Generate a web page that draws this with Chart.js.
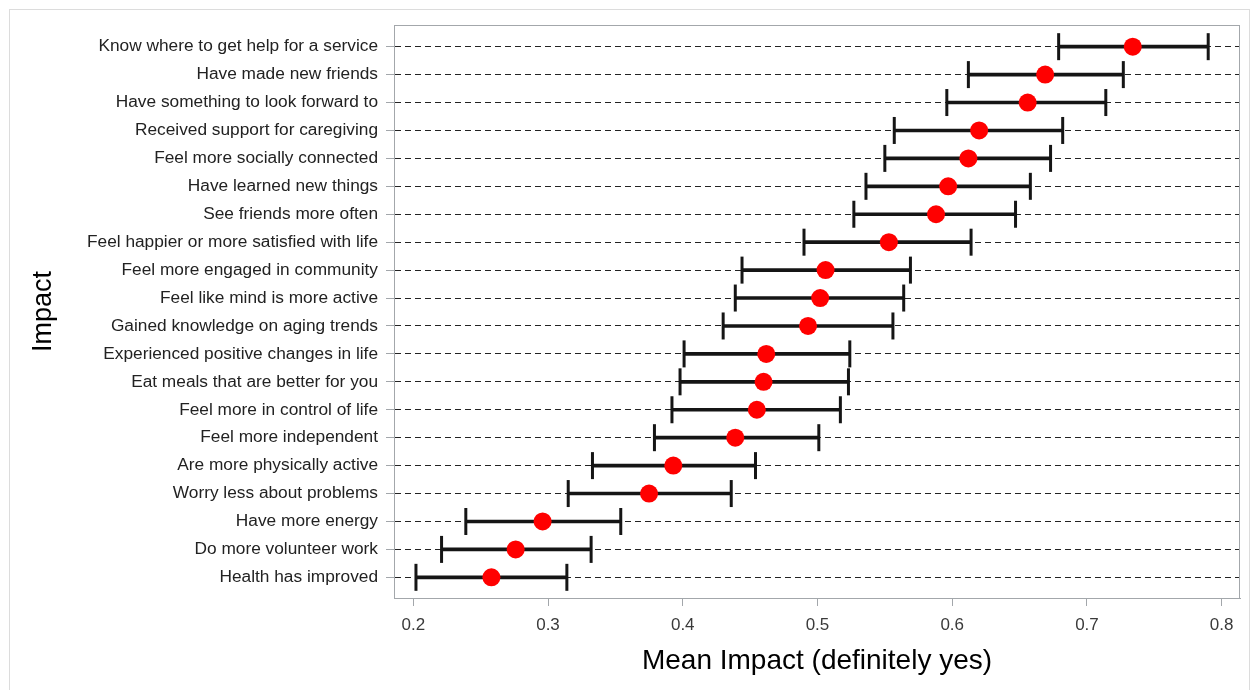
<!DOCTYPE html>
<html>
<head>
<meta charset="utf-8">
<script src="https://cdn.jsdelivr.net/npm/chart.js@4.4.1/dist/chart.umd.min.js"></script>
<style>
  html, body { margin: 0; padding: 0; background: #fff; }
  #wrap { position: relative; width: 1252px; height: 690px; overflow: hidden; }
  #frame { position: absolute; left: 9px; top: 9px; width: 1241px; height: 700px; border: 1px solid #dcdcdc; box-sizing: border-box; pointer-events: none; }
  canvas { position: absolute; left: 0; top: 0; }
</style>
</head>
<body>
<div id="wrap">
  <div id="frame"></div>
  <canvas id="c" width="1252" height="690"></canvas>
</div>
<script>
const categories = [
  "Know where to get help for a service",
  "Have made new friends",
  "Have something to look forward to",
  "Received support for caregiving",
  "Feel more socially connected",
  "Have learned new things",
  "See friends more often",
  "Feel happier or more satisfied with life",
  "Feel more engaged in community",
  "Feel like mind is more active",
  "Gained knowledge on aging trends",
  "Experienced positive changes in life",
  "Eat meals that are better for you",
  "Feel more in control of life",
  "Feel more independent",
  "Are more physically active",
  "Worry less about problems",
  "Have more energy",
  "Do more volunteer work",
  "Health has improved"
];
const means = [0.734,0.669,0.656,0.620,0.612,0.597,0.588,0.553,0.506,0.502,0.493,0.462,0.460,0.455,0.439,0.393,0.375,0.296,0.276,0.258];
const lower = [0.679,0.612,0.596,0.557,0.550,0.536,0.527,0.490,0.444,0.439,0.430,0.401,0.398,0.392,0.379,0.333,0.315,0.239,0.221,0.202];
const upper = [0.790,0.727,0.714,0.682,0.673,0.658,0.647,0.614,0.569,0.564,0.556,0.524,0.523,0.517,0.501,0.454,0.436,0.354,0.332,0.314];
const xTicks = [0.2,0.3,0.4,0.5,0.6,0.7,0.8];
const xTickLabels = ["0.2","0.3","0.4","0.5","0.6","0.7","0.8"];
const xTitle = "Mean Impact (definitely yes)";
const yTitle = "Impact";

const FONT = "'Liberation Sans', Arial, sans-serif";

const whiskerData = categories.map((c, i) => ({ y: i, x: [lower[i], upper[i]] }));
const capData = [];
categories.forEach((c, i) => { capData.push({ x: lower[i], y: i }); capData.push({ x: upper[i], y: i }); });
const meanData = categories.map((c, i) => ({ x: means[i], y: i }));

const framePlugin = {
  id: 'frame',
  afterDraw(chart) {
    const { ctx, chartArea: a } = chart;
    ctx.save();
    ctx.strokeStyle = '#a3a7ab';
    ctx.lineWidth = 1;
    ctx.strokeRect(Math.round(a.left) + 0.5, Math.round(a.top) + 0.5, Math.round(a.right - a.left) - 1, Math.round(a.bottom - a.top));
    ctx.restore();
  }
};

new Chart(document.getElementById('c'), {
  type: 'scatter',
  data: {
    datasets: [
      { type: 'bar', indexAxis: 'y', data: whiskerData, backgroundColor: '#151515', borderWidth: 0, barThickness: 3, order: 3 },
      { type: 'scatter', data: capData, pointStyle: 'line', rotation: 90, pointRadius: 13.5, borderColor: '#151515', borderWidth: 3, order: 2 },
      { type: 'scatter', data: meanData, pointStyle: 'circle', pointRadius: 9, backgroundColor: '#ff0000', borderWidth: 0, order: 1 }
    ]
  },
  options: {
    responsive: false,
    animation: false,
    devicePixelRatio: 1,
    layout: { autoPadding: false, padding: { left: 0, top: 25, right: 12, bottom: 0 } },
    plugins: { legend: { display: false }, tooltip: { enabled: false } },
    scales: {
      x: {
        type: 'linear', position: 'bottom', offset: false, min: 0.1857, max: 0.8136,
        afterBuildTicks: s => { s.ticks = xTicks.map(v => ({ value: v })); },
        afterFit: s => { s.height = 92; s.paddingLeft = 0; s.paddingRight = 0; },
        ticks: { callback: (v, i) => xTickLabels[i], color: '#3a3a3a', font: { family: FONT, size: 17 }, padding: 9, maxRotation: 0 },
        grid: { offset: false, drawOnChartArea: false, drawTicks: true, tickLength: 8, tickColor: '#a3a7ab', color: '#a3a7ab' },
        border: { display: true, color: '#a3a7ab', width: 1 },
        title: { display: true, text: xTitle, color: '#000', font: { family: FONT, size: 28 }, padding: { top: 0, bottom: 12 } }
      },
      y: {
        type: 'linear', position: 'left', reverse: true, offset: false, min: -0.776, max: 19.74,
        afterBuildTicks: s => { s.ticks = categories.map((c, i) => ({ value: i })); },
        afterFit: s => { s.width = 394; s.paddingTop = 0; s.paddingBottom = 0; },
        ticks: { callback: (v) => categories[v], color: '#222', font: { family: FONT, size: 17.3 }, padding: 8, autoSkip: false },
        grid: { offset: false, drawOnChartArea: true, drawTicks: true, tickLength: 8, color: '#222', tickColor: '#a3a7ab', lineWidth: 1 },
        border: { display: true, color: '#a3a7ab', width: 1, dash: [6, 4] },
        title: { display: true, text: yTitle, color: '#000', font: { family: FONT, size: 27 }, padding: { top: 27, bottom: 0 } }
      }
    }
  },
  plugins: [framePlugin]
});
</script>
</body>
</html>
